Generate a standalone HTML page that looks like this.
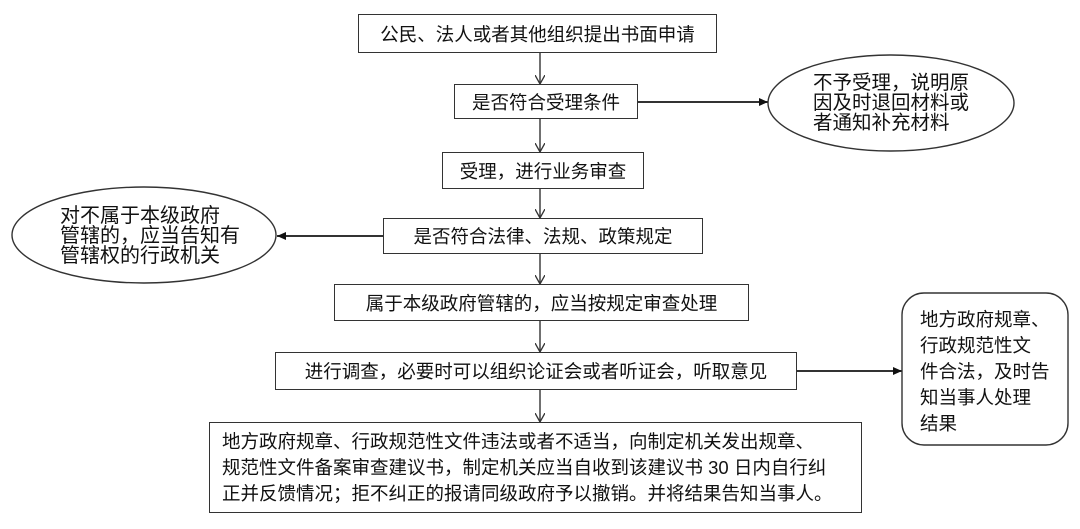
<!DOCTYPE html>
<html><head><meta charset="utf-8"><style>
body{margin:0;width:1080px;height:529px;background:#fff;position:relative;overflow:hidden;font-family:"Liberation Sans","Noto Sans CJK SC",sans-serif;color:#111}
.b{position:absolute;border:1.5px solid #333;box-sizing:border-box;display:flex;align-items:center;justify-content:center;font-size:18.5px;white-space:nowrap;background:#fff}
.t{position:absolute;white-space:nowrap}
svg{position:absolute;left:0;top:0}
</style></head><body>
<svg width="1080" height="529">
<defs><marker id="a" markerWidth="10" markerHeight="10" refX="9" refY="5" orient="auto" markerUnits="userSpaceOnUse"><path d="M0,0 L9,5 L0,10" fill="none" stroke="#333" stroke-width="1.3"/></marker>
<marker id="f" markerWidth="10" markerHeight="10" refX="9" refY="5" orient="auto" markerUnits="userSpaceOnUse"><path d="M0,1 L9,5 L0,9z" fill="#111"/></marker></defs>
<g stroke="#333" stroke-width="1.4" fill="none">
<line x1="540" y1="53" x2="540" y2="84" marker-end="url(#a)"/>
<line x1="540" y1="119" x2="540" y2="152" marker-end="url(#a)"/>
<line x1="540" y1="189" x2="540" y2="218" marker-end="url(#a)"/>
<line x1="540" y1="254" x2="540" y2="284" marker-end="url(#a)"/>
<line x1="540" y1="321" x2="540" y2="352" marker-end="url(#a)"/>
<line x1="540" y1="390" x2="540" y2="422" marker-end="url(#a)"/>
<line x1="638" y1="102" x2="768" y2="102" stroke-width="2" marker-end="url(#f)"/>
<line x1="383" y1="236" x2="277" y2="236" stroke-width="2" marker-end="url(#f)"/>
<line x1="797" y1="371" x2="902" y2="371" stroke-width="2" marker-end="url(#f)"/>
<ellipse cx="891" cy="103" rx="123" ry="48"/>
<ellipse cx="144" cy="235" rx="132" ry="48"/>
<rect x="902" y="293" width="166" height="152" rx="22"/>
</g></svg>
<div class="b" style="left:358px;top:14px;width:359px;height:39px">公民、法人或者其他组织提出书面申请</div>
<div class="b" style="left:454px;top:84px;width:184px;height:35px">是否符合受理条件</div>
<div class="b" style="left:442px;top:152px;width:202px;height:37px">受理，进行业务审查</div>
<div class="b" style="left:383px;top:218px;width:320px;height:36px">是否符合法律、法规、政策规定</div>
<div class="b" style="left:334px;top:284px;width:415px;height:37px">属于本级政府管辖的，应当按规定审查处理</div>
<div class="b" style="left:275px;top:352px;width:522px;height:38px">进行调查，必要时可以组织论证会或者听证会，听取意见</div>
<div class="b" style="left:209px;top:422px;width:653px;height:91px;display:block;padding:6px 0 0 12px;line-height:26px">地方政府规章、行政规范性文件违法或者不适当，向制定机关发出规章、<br>规范性文件备案审查建议书，制定机关应当自收到该建议书 30 日内自行纠<br>正并反馈情况；拒不纠正的报请同级政府予以撤销。并将结果告知当事人。</div>
<div class="t" style="left:813px;top:73px;font-size:19.5px;line-height:20px">不予受理，说明原<br>因及时退回材料或<br>者通知补充材料</div>
<div class="t" style="left:60px;top:206px;font-size:20px;line-height:20px">对不属于本级政府<br>管辖的，应当告知有<br>管辖权的行政机关</div>
<div class="t" style="left:920px;top:307px;font-size:18.5px;line-height:26px">地方政府规章、<br>行政规范性文<br>件合法，及时告<br>知当事人处理<br>结果</div>
</body></html>
